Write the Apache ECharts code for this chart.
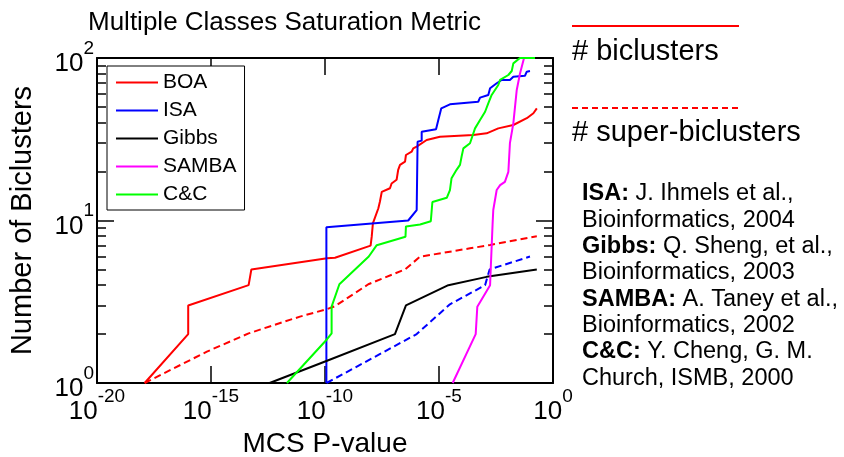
<!DOCTYPE html>
<html><head><meta charset="utf-8">
<script src="https://cdn.jsdelivr.net/npm/echarts@6/dist/echarts.min.js"></script>
<style>html,body{margin:0;padding:0;background:#fff}#c{width:844px;height:457px}</style>
</head><body><div id="c"></div>
<script>
// ---------- data (P-value, number of biclusters) ----------
const legendNames = ['BOA', 'ISA', 'Gibbs', 'SAMBA', 'C&C'];

const boaP = [1.23e-18, 1e-16, 1e-16, 4.47e-14, 5.89e-14, 1.23e-10, 2.75e-10, 1e-8, 1.12e-8, 1.26e-8, 2.19e-8, 2.57e-8, 3.09e-8, 7.08e-8, 8.32e-8, 1.38e-7, 1.62e-7, 1.95e-7, 3.24e-7, 3.55e-7, 6.31e-7, 7.41e-7, 1.05e-6, 2.88e-6, 1.10e-5, 3.16e-4, 1.23e-3, 3.98e-3, 1.82e-2, 7.08e-2, 1.38e-1, 1.95e-1];
const boaN = [1, 2, 3, 4, 5, 5.85, 5.9, 7.0, 7.95, 9.6, 11.9, 13.1, 15.0, 15.8, 16.9, 17.8, 20.5, 22.0, 23.0, 25.3, 26.5, 27.8, 28.5, 31.3, 32.8, 33.6, 34.4, 36.9, 38.7, 42.6, 45.7, 49];
const boaSuperP = [1.23e-18, 6.61e-16, 4.47e-14, 1.55e-12, 7.94e-12, 1.23e-10, 2.75e-10, 7.94e-9, 3.24e-7, 1.48e-6, 2.29e-4, 1.74e-3, 1.95e-1];
const boaSuperN = [1, 1.56, 2.02, 2.38, 2.56, 2.85, 2.97, 4.05, 5.0, 5.99, 6.74, 7.07, 8.0];

const isaP = [1.15e-10, 1.15e-10, 4.47e-7, 1.05e-6, 1.15e-6, 1.74e-6, 1.74e-6, 7.41e-6, 9.33e-6, 1.26e-5, 3.02e-5, 5.25e-4, 6.31e-4, 1.45e-3, 1.74e-3, 3.39e-3, 5.62e-3, 1.29e-2, 1.82e-2, 5.89e-2, 7.08e-2, 9.77e-2];
const isaN = [1, 9.1, 10.0, 11.6, 30.5, 31, 35.2, 36.4, 41.5, 49, 51.9, 53.8, 57.0, 59.2, 65.1, 69.9, 73.2, 73.2, 76.7, 77.8, 82.4, 83.2];
const isaSuperP = [1.17e-10, 1.05e-6, 3.02e-5, 1.05e-3, 1.66e-3, 9.77e-2];
const isaSuperN = [1, 2.0, 3.05, 4.0, 5.0, 6.0];

const gibbsP = [3.72e-13, 1.23e-10, 1.17e-7, 3.55e-7, 2.57e-5, 1.23e-3, 1.95e-1];
const gibbsN = [1, 1.37, 2.0, 3.0, 4.0, 4.5, 5.0];

const sambaP = [3.98e-5, 4.07e-4, 4.79e-4, 1.74e-3, 1.86e-3, 2.24e-3, 2.40e-3, 3.39e-3, 4.79e-3, 7.76e-3, 1.10e-2, 1.29e-2, 1.82e-2, 2.57e-2, 3.55e-2, 5.37e-2];
const sambaN = [1, 2.0, 2.95, 4.0, 5.07, 9.5, 11.6, 15.4, 16.5, 17.3, 19.9, 29.9, 39.6, 63.6, 80, 100];

const ccP = [2.14e-12, 1.23e-10, 1.95e-10, 1.95e-10, 4.27e-10, 8.32e-9, 1.86e-8, 3.39e-7, 3.55e-7, 1.48e-6, 4.37e-6, 5.13e-6, 2.19e-5, 3.02e-5, 3.55e-5, 5.89e-5, 8.32e-5, 9.77e-5, 1.17e-4, 2.29e-4, 3.80e-4, 6.31e-4, 1.05e-3, 1.45e-3, 2.04e-3, 3.98e-3, 4.79e-3, 1.10e-2, 1.55e-2, 1.82e-2, 3.55e-2, 1.62e-1];
const ccN = [1, 1.86, 2.02, 2.95, 4.05, 6.0, 7.05, 7.95, 9.2, 9.45, 9.9, 13.0, 13.8, 15.4, 18.2, 20.5, 22.0, 24.7, 27.8, 29.9, 36.9, 41.5, 46.7, 52.6, 59.2, 68.2, 73.3, 78.6, 83.2, 92.7, 100, 100];

const citations = [
  ['ISA:', ' J. Ihmels et al.,'],
  ['', 'Bioinformatics, 2004'],
  ['Gibbs:', ' Q. Sheng, et al.,'],
  ['', 'Bioinformatics, 2003'],
  ['SAMBA:', ' A. Taney et al.,'],
  ['', 'Bioinformatics, 2002'],
  ['C&C:', ' Y. Cheng, G. M.'],
  ['', 'Church, ISMB, 2000']
];
const titleText = 'Multiple Classes Saturation Metric';
const xName = 'MCS P-value';
const yName = 'Number of Biclusters';
const keyTexts = ['# biclusters', '# super-biclusters'];

// ---------- chart ----------
const FF = '"Liberation Sans", Arial, Helvetica, sans-serif';
const zip = (a, b) => a.map((v, i) => [v, b[i]]);
const powLabel = v => '{b|10}{s|' + Math.round(Math.log10(v)) + '}';
const richPow = {
  b: {fontSize: 26, fontFamily: FF, color: '#000', lineHeight: 38, verticalAlign: 'bottom'},
  s: {fontSize: 19, fontFamily: FF, color: '#000', lineHeight: 16, verticalAlign: 'top'}
};
const axLine = {show: true, onZero: false, lineStyle: {color: '#000', width: 2}};
const lineIcon = 'path://M0,0L42,0L42,2L0,2Z';

function xAx(pos, showLabel) {
  return {
    type: 'log', logBase: 10, min: 1e-20, max: 1, interval: 5, position: pos,
    axisLine: axLine,
    axisTick: {show: true, inside: true, length: 17, lineStyle: {color: '#000', width: 1.5}},
    minorTick: {show: false},
    splitLine: {show: false},
    axisLabel: {show: showLabel, formatter: powLabel, rich: richPow, margin: 4, color: '#000'},
    name: showLabel ? xName : '', nameLocation: 'middle', nameGap: 35,
    nameTextStyle: {fontSize: 28, fontFamily: FF, color: '#000'}
  };
}
function yAx(pos, showLabel) {
  return {
    type: 'log', logBase: 10, min: 1, max: 100, position: pos,
    axisLine: axLine,
    axisTick: {show: true, inside: true, length: 17, lineStyle: {color: '#000', width: 1.5}},
    minorTick: {show: true, splitNumber: 9, length: 9, lineStyle: {color: '#000', width: 1.5}},
    splitLine: {show: false}, minorSplitLine: {show: false},
    axisLabel: {show: showLabel, formatter: powLabel, rich: richPow, margin: 3, color: '#000'},
    name: showLabel ? yName : '', nameLocation: 'middle', nameGap: 60,
    nameTextStyle: {fontSize: 29, fontFamily: FF, color: '#000'}
  };
}
function ser(name, p, n, color, dashed) {
  return {
    name: name, type: 'line', data: zip(p, n), symbol: 'none', showSymbol: false,
    lineStyle: {color: color, width: 2, type: dashed ? [7, 4] : 'solid'},
    itemStyle: {color: color}, clip: true, animation: false, z: 3
  };
}

const graphics = [
  {type: 'text', x: 88, y: 23, style: {text: titleText, fontSize: 26, fontFamily: FF, fill: '#000', align: 'left', verticalAlign: 'middle'}},
  {type: 'line', shape: {x1: 572, y1: 26, x2: 739, y2: 26}, style: {stroke: '#f00', lineWidth: 2}},
  {type: 'text', x: 572, y: 52, style: {text: keyTexts[0], fontSize: 29, fontFamily: FF, fill: '#000', align: 'left', verticalAlign: 'middle'}},
  {type: 'line', shape: {x1: 572, y1: 108, x2: 739, y2: 108}, style: {stroke: '#f00', lineWidth: 2, lineDash: [6, 4]}},
  {type: 'text', x: 572, y: 133, style: {text: keyTexts[1], fontSize: 29, fontFamily: FF, fill: '#000', align: 'left', verticalAlign: 'middle'}}
];
citations.forEach((c, i) => {
  graphics.push({
    type: 'text', x: 582, y: 194 + i * 26.3,
    style: {
      text: (c[0] ? '{k|' + c[0] + '}' : '') + c[1],
      fontSize: 23.5, fontFamily: FF, fill: '#000', align: 'left', verticalAlign: 'middle',
      rich: {k: {fontSize: 23.5, fontFamily: FF, fontWeight: 'bold', fill: '#000'}}
    }
  });
});

const chart = echarts.init(document.getElementById('c'), null, {renderer: 'canvas'});
chart.setOption({
  animation: false,
  backgroundColor: '#fff',
  grid: {left: 97, right: 291, top: 58, bottom: 74, containLabel: false, outerBoundsMode: 'none'},
  legend: {
    data: legendNames.map(n => ({name: n, icon: lineIcon})),
    orient: 'vertical', left: 107, top: 66,
    padding: [6, 8, 5, 9], itemWidth: 42, itemHeight: 21, itemGap: 7,
    textStyle: {fontSize: 21, fontFamily: FF, color: '#000'},
    backgroundColor: '#fff', borderColor: '#000', borderWidth: 1, borderRadius: 0
  },
  xAxis: [xAx('bottom', true), xAx('top', false)],
  yAxis: [yAx('left', true), yAx('right', false)],
  graphic: graphics,
  series: [
    ser('BOA', boaP, boaN, '#ff0000', false),
    ser('BOA super', boaSuperP, boaSuperN, '#ff0000', true),
    ser('ISA', isaP, isaN, '#0000ff', false),
    ser('ISA super', isaSuperP, isaSuperN, '#0000ff', true),
    ser('Gibbs', gibbsP, gibbsN, '#000000', false),
    ser('SAMBA', sambaP, sambaN, '#ff00ff', false),
    ser('C&C', ccP, ccN, '#00ff00', false)
  ]
});
</script>
</body></html>
